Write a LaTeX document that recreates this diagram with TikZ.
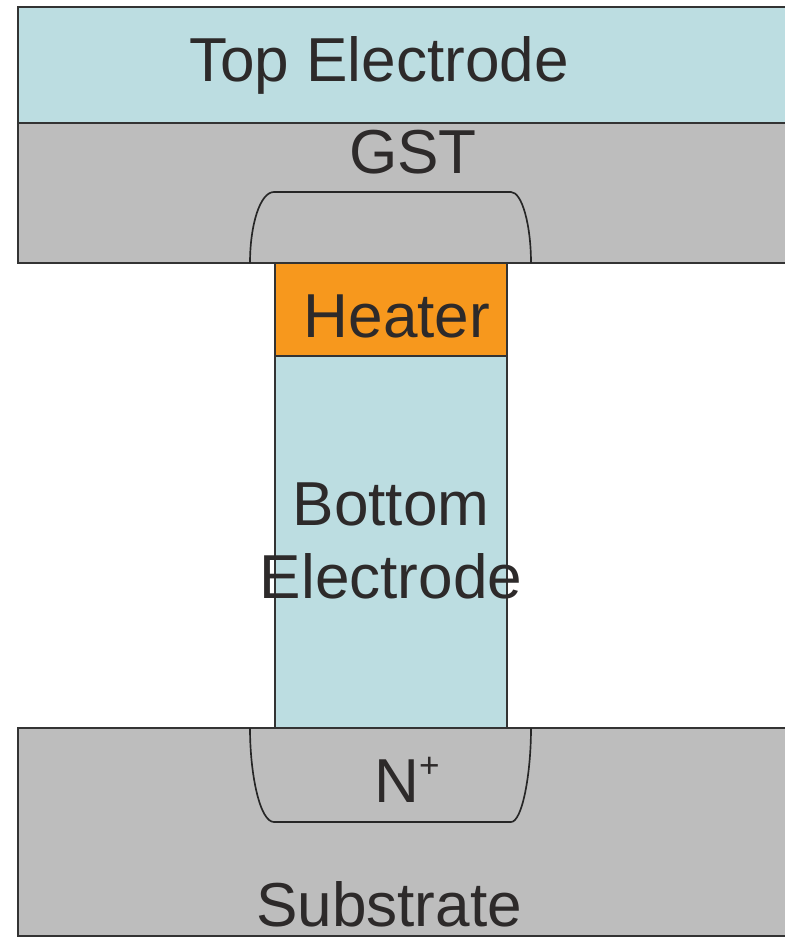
\documentclass[tikz,border=0pt]{standalone}
\usepackage{fontspec}
\setmainfont{Liberation Sans}
\usetikzlibrary{positioning}
\definecolor{electrodeblue}{HTML}{BCDDE1}
\definecolor{layergray}{HTML}{BDBDBD}
\definecolor{heaterorange}{HTML}{F7981D}
\definecolor{labelink}{HTML}{2D2A2A}
\tikzset{
    %Define style for the stacked layers
    layer/.style={
           rectangle,
           draw=black!80, line width=0.7mm,
           inner sep=0pt,
           outer sep=0pt,
           anchor=north west},
    % Define style for the printed names
    tag/.style={
           text=labelink,
           inner sep=0pt,
           align=center,
           font=\fontsize{53}{62}\selectfont},
    % Define style for the doped wells
    well/.style={
           draw=black!85,
           line width=0.5mm}
}

\begin{document}
\begin{tikzpicture}[x=0.03cm,y=-0.03cm,
                      wide/.style={minimum width=23.6cm},
                      narrow/.style={minimum width=6.96cm}]
    \path[use as bounding box,clip] (0,0) rectangle (785,938);
    \node (topel) [layer,wide,fill=electrodeblue,minimum height=3.48cm] at (18,7) {};
    \node (gst) [layer,wide,fill=layergray,minimum height=4.2cm] at (topel.south west) {};
    \node (substrate) [layer,wide,fill=layergray,minimum height=6.24cm] at (18,728) {};
    \node (heater) [layer,narrow,fill=heaterorange,minimum height=2.79cm] at (275,263) {};
    \node (botel) [layer,narrow,fill=electrodeblue,minimum height=11.16cm] at (heater.south west) {};
    % wells
    \draw[well] (250,263) .. controls (250,225) and (260,192) .. (274,192)
          -- (511,192) .. controls (522,192) and (531,225) .. (531,263);
    \draw[well] (250,728) .. controls (250,775) and (260,822) .. (274,822)
          -- (511,822) .. controls (522,822) and (531,775) .. (531,728);
    % names
    \node (toptext) [tag] at (379,65) {Top Electrode};
    \node (gsttext) [tag] at (413,152) {GST};
    \node (heatertext) [tag] at (397,316) {Heater};
    \node (bottext) [tag] at (391,541) {Bottom\\Electrode};
    \node (ntext) [tag] at (407,780) {N\raisebox{0.4em}{\fontsize{30}{30}\selectfont +}};
    \node (subtext) [tag] at (389,904) {Substrate};
\end{tikzpicture}
\end{document}
